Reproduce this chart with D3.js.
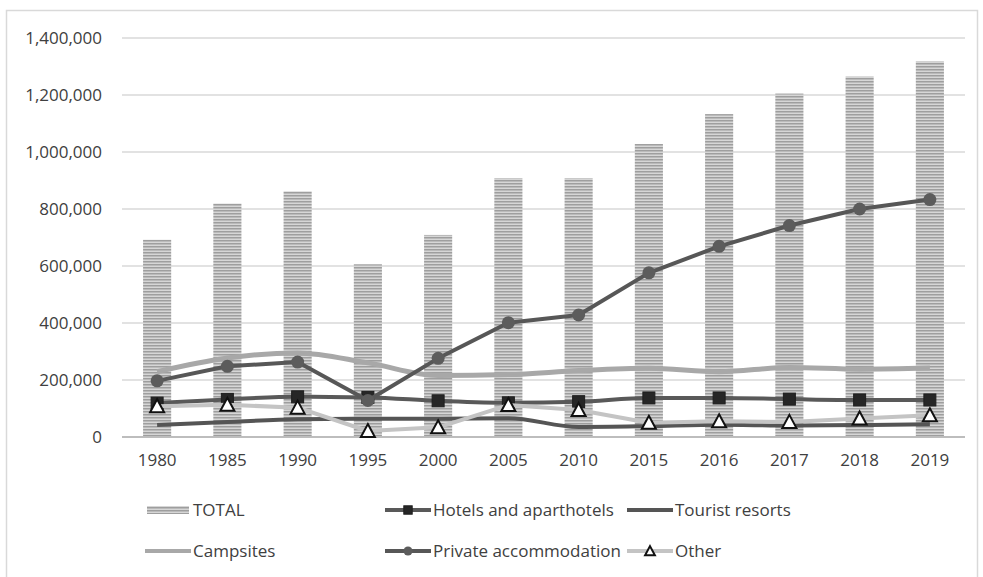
<!DOCTYPE html>
<html>
<head>
<meta charset="utf-8">
<script src="https://cdn.jsdelivr.net/npm/d3@7"></script>
<style>
  html, body { margin: 0; padding: 0; background: #fff; }
  svg { display: block; }
  text { font-family: "Open Sans", "Liberation Sans", sans-serif; fill: #404040; }
</style>
</head>
<body>
<svg id="chart" width="983" height="577"></svg>
<script>
// Categories (years)
const years = ["1980","1985","1990","1995","2000","2005","2010","2015","2016","2017","2018","2019"];

// Series values (number of beds / capacity)
const total        = [692000, 819000, 862000, 606000, 709000, 908000, 908000, 1028000, 1133000, 1205000, 1265000, 1318000];
const hotels       = [119000, 132000, 141000, 139000, 127000, 120000, 124000, 137000, 137000, 133000, 130000, 130000];
const tourist      = [42000, 53000, 62000, 64000, 64000, 66000, 35000, 38000, 43000, 40000, 42000, 45000];
const campsites    = [229000, 277000, 295000, 260000, 216000, 219000, 233000, 241000, 229000, 244000, 238000, 242000];
const privateAcc   = [197000, 248000, 263000, 128000, 276000, 401000, 428000, 576000, 669000, 742000, 800000, 833000];
const other        = [108000, 113000, 103000, 21000, 34000, 112000, 95000, 50000, 55000, 53000, 65000, 76000];

// Y axis ticks
const yTicks = [0, 200000, 400000, 600000, 800000, 1000000, 1200000, 1400000];

const svg = d3.select("#chart");

// Bar fill: fine horizontal stripes
const defs = svg.append("defs");
const pat = defs.append("pattern")
  .attr("id", "stripes")
  .attr("patternUnits", "userSpaceOnUse")
  .attr("width", 8).attr("height", 3);
pat.append("rect").attr("width", 8).attr("height", 3).attr("fill", "#d6d6d6");
pat.append("rect").attr("width", 8).attr("height", 1.5).attr("fill", "#9e9e9e");

// Outer chart frame
svg.append("rect")
  .attr("x", 6.5).attr("y", 10.5).attr("width", 971).attr("height", 600)
  .attr("fill", "none").attr("stroke", "#d9d9d9").attr("stroke-width", 1.5);

const x = d3.scaleBand().domain(years).range([122, 965]).padding(0);
const cx = d => x(d) + x.bandwidth() / 2;
const barW = x.bandwidth() * 0.4;
const y = d3.scaleLinear().domain([0, 1400000]).range([437, 38]);

// Gridlines
svg.append("g").selectAll("line")
  .data(yTicks.filter(t => t > 0))
  .join("line")
  .attr("x1", 122).attr("x2", 965)
  .attr("y1", d => y(d)).attr("y2", d => y(d))
  .attr("stroke", "#d9d9d9").attr("stroke-width", 1.5);

// Y axis labels
const yAxis = d3.axisLeft(y).tickValues(yTicks).tickFormat(d3.format(",")).tickSize(0).tickPadding(0);
const gy = svg.append("g").attr("transform", "translate(102,0)").call(yAxis);
gy.select(".domain").remove();
gy.selectAll("text").attr("font-size", 17).attr("fill", "#404040")
  .style("font-family", "'Open Sans', sans-serif");

// TOTAL bars
svg.append("g").selectAll("rect")
  .data(years.map((yr, i) => ({yr, v: total[i]})))
  .join("rect")
  .attr("x", d => cx(d.yr) - barW / 2)
  .attr("width", barW)
  .attr("y", d => y(d.v))
  .attr("height", d => y(0) - y(d.v))
  .attr("fill", "url(#stripes)");

// Category axis line
svg.append("line")
  .attr("x1", 122).attr("x2", 965)
  .attr("y1", y(0)).attr("y2", y(0))
  .attr("stroke", "#bdbdbd").attr("stroke-width", 2);

// X axis labels
const xAxis = d3.axisBottom(x).tickSize(0).tickPadding(0);
const gx = svg.append("g").attr("transform", "translate(0,454)").call(xAxis);
gx.select(".domain").remove();
gx.selectAll("text").attr("font-size", 17).attr("fill", "#404040").attr("dy", "0.71em")
  .style("font-family", "'Open Sans', sans-serif");

const pts = arr => years.map((yr, i) => ({yr, v: arr[i]}));
const smooth = d3.line().x(d => cx(d.yr)).y(d => y(d.v)).curve(d3.curveMonotoneX);
const straight = d3.line().x(d => cx(d.yr)).y(d => y(d.v));

const series = [
  {name: "Hotels and aparthotels", data: hotels,     color: "#595959", width: 4,   gen: smooth,   marker: "square"},
  {name: "Tourist resorts",        data: tourist,    color: "#555555", width: 4,   gen: smooth,   marker: null},
  {name: "Campsites",              data: campsites,  color: "#a8a8a8", width: 5,   gen: smooth,   marker: null},
  {name: "Private accommodation",  data: privateAcc, color: "#575757", width: 4,   gen: straight, marker: "circle"},
  {name: "Other",                  data: other,      color: "#c4c4c4", width: 4,   gen: straight, marker: "triangle"}
];

function drawMarker(g, type, px, py, s) {
  if (type === "square") {
    g.append("rect").attr("x", px - 6 * s).attr("y", py - 6 * s)
      .attr("width", 12 * s).attr("height", 12 * s)
      .attr("fill", "#262626").attr("stroke", "#1e1e1e").attr("stroke-width", 1);
  } else if (type === "circle") {
    g.append("circle").attr("cx", px).attr("cy", py).attr("r", 6.5 * s)
      .attr("fill", "#5c5c5c");
  } else if (type === "triangle") {
    g.append("path")
      .attr("d", `M${px},${py - 7 * s} L${px + 7 * s},${py + 6 * s} L${px - 7 * s},${py + 6 * s} Z`)
      .attr("fill", "#fff").attr("stroke", "#111").attr("stroke-width", 2).attr("stroke-linejoin", "miter");
  }
}

series.forEach(s => {
  const g = svg.append("g");
  g.append("path")
    .attr("d", s.gen(pts(s.data)))
    .attr("fill", "none")
    .attr("stroke", s.color)
    .attr("stroke-width", s.width)
    .attr("stroke-linejoin", "round");
  if (s.marker) {
    pts(s.data).forEach(d => drawMarker(g, s.marker, cx(d.yr), y(d.v), 1));
  }
});

// Legend
const legendItems = [
  {name: "TOTAL", type: "bar"},
  {name: "Hotels and aparthotels", type: "line", s: series[0]},
  {name: "Tourist resorts", type: "line", s: series[1]},
  {name: "Campsites", type: "line", s: series[2]},
  {name: "Private accommodation", type: "line", s: series[3]},
  {name: "Other", type: "line", s: series[4]}
];
const colX = [145, 385, 627];
const rowY = [510, 551];
const lg = svg.append("g");
legendItems.forEach((it, i) => {
  const lx = colX[i % 3], ly = rowY[Math.floor(i / 3)];
  if (it.type === "bar") {
    lg.append("rect").attr("x", lx + 2).attr("y", ly - 4).attr("width", 42).attr("height", 8)
      .attr("fill", "url(#stripes)");
  } else {
    lg.append("line").attr("x1", lx).attr("x2", lx + 46).attr("y1", ly).attr("y2", ly)
      .attr("stroke", it.s.color).attr("stroke-width", 4);
    if (it.s.marker) drawMarker(lg, it.s.marker, lx + 23, ly, 0.7);
  }
  lg.append("text").attr("x", lx + 48).attr("y", ly).attr("dy", "0.35em")
    .attr("font-size", 17).text(it.name);
});
</script>
</body>
</html>
